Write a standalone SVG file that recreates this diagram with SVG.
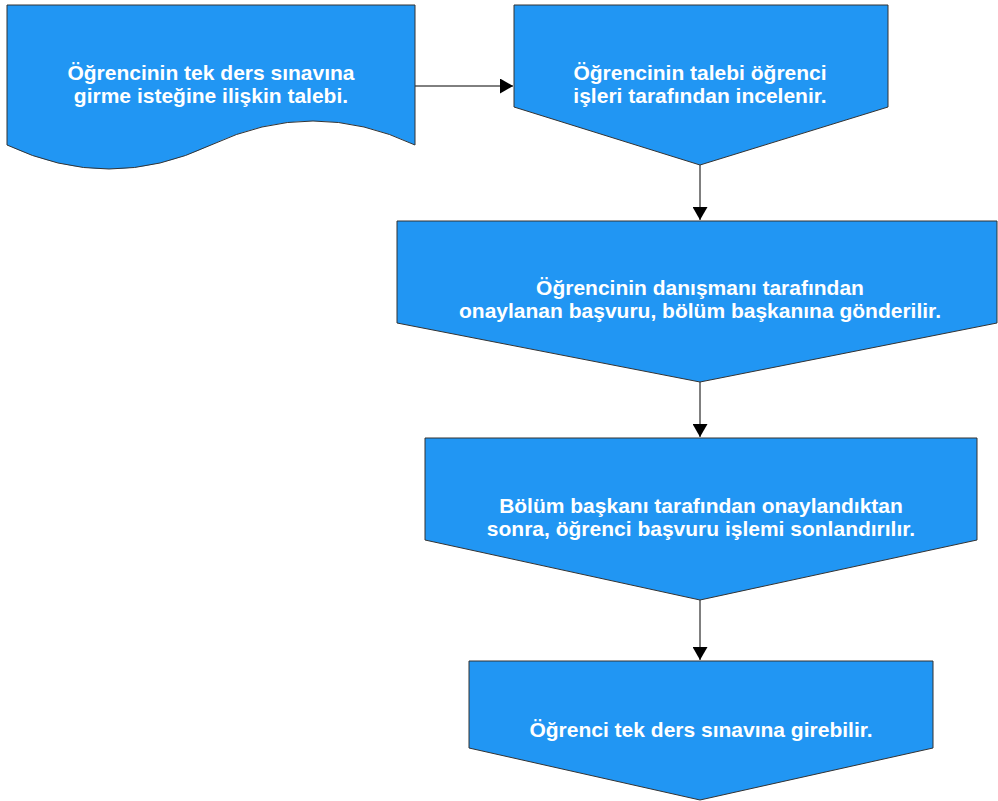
<svg xmlns="http://www.w3.org/2000/svg" width="998" height="801" viewBox="0 0 998 801">
<style>
.shape{fill:#2196F3;stroke:#333333;stroke-width:1}
.lbl{font-family:"Liberation Sans",Arial,Helvetica,sans-serif;font-size:21px;font-weight:bold;fill:#FFFFFF;text-anchor:middle}
.edge{fill:none;stroke:#000000;stroke-width:1}
</style>
<defs>
<marker id="arr" markerUnits="userSpaceOnUse" viewBox="0 0 13 15" refX="13" refY="7.5" markerWidth="13" markerHeight="15" orient="auto">
<path d="M0,0 L13,7.5 L0,15 z" fill="#000000"/>
</marker>
</defs>
<rect width="998" height="801" fill="#FFFFFF"/>
<g id="connectors">
<path class="edge" d="M415,86 L513,86" marker-end="url(#arr)"/>
<path class="edge" d="M700,165 L700,220" marker-end="url(#arr)"/>
<path class="edge" d="M700,382 L700,437" marker-end="url(#arr)"/>
<path class="edge" d="M700,600 L700,660" marker-end="url(#arr)"/>
</g>
<g id="n1">
<path class="shape" d="M7,5 L415,5 L415,145 Q313,97 211,145 Q109,193 7,145 Z"/>
<text class="lbl" x="211" y="80">Öğrencinin tek ders sınavına</text>
<text class="lbl" x="211" y="103">girme isteğine ilişkin talebi.</text>
</g>
<g id="n2">
<path class="shape" d="M514,5 L888,5 L888,107 L700,165 L514,107 Z"/>
<text class="lbl" x="700" y="80">Öğrencinin talebi öğrenci</text>
<text class="lbl" x="700" y="103">işleri tarafından incelenir.</text>
</g>
<g id="n3">
<path class="shape" d="M397,221 L997,221 L997,323 L700,382 L397,323 Z"/>
<text class="lbl" x="700" y="295">Öğrencinin danışmanı tarafından</text>
<text class="lbl" x="700" y="318">onaylanan başvuru, bölüm başkanına gönderilir.</text>
</g>
<g id="n4">
<path class="shape" d="M425,438 L977,438 L977,540 L700,600 L425,540 Z"/>
<text class="lbl" x="701" y="513">Bölüm başkanı tarafından onaylandıktan</text>
<text class="lbl" x="701" y="536">sonra, öğrenci başvuru işlemi sonlandırılır.</text>
</g>
<g id="n5">
<path class="shape" d="M469,661 L933,661 L933,748 L700,800 L469,748 Z"/>
<text class="lbl" x="701" y="737">Öğrenci tek ders sınavına girebilir.</text>
</g>
</svg>
